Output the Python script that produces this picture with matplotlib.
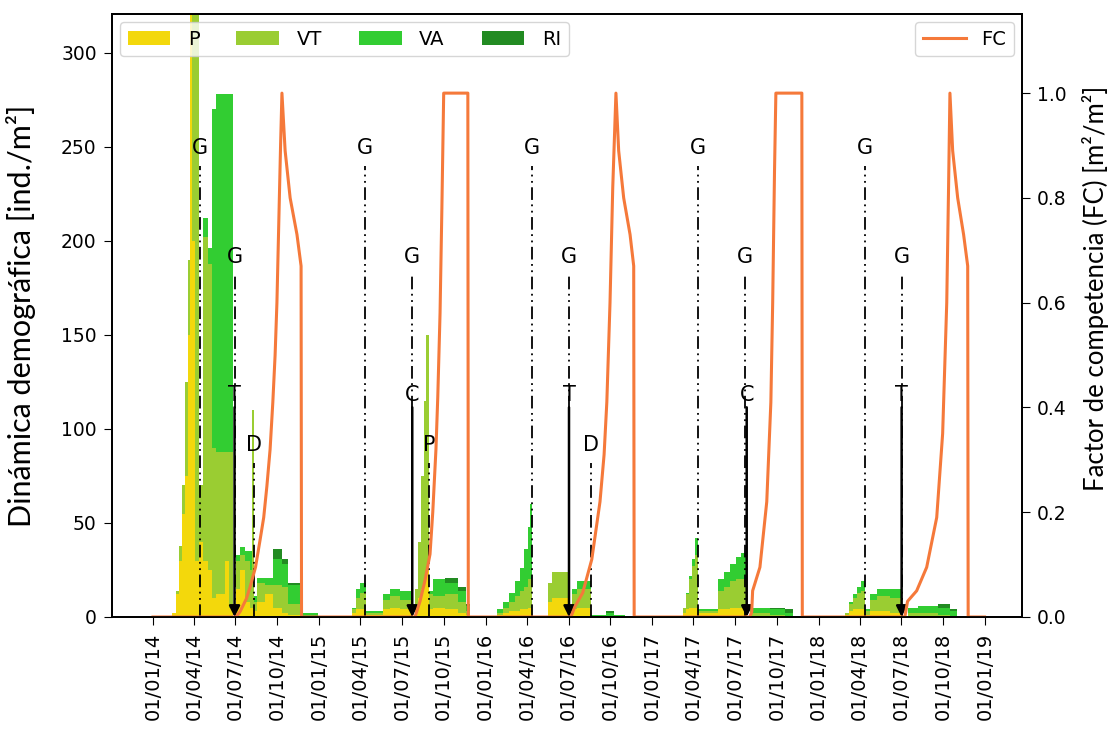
import matplotlib
matplotlib.use("Agg")
import matplotlib.pyplot as plt
import matplotlib.dates as mdates
import pandas as pd

# population breakpoints (value holds until next date)
pop_dates = [
    "2014-01-01", "2014-02-12", "2014-02-20", "2014-02-27", "2014-03-06", "2014-03-12",
    "2014-03-19", "2014-03-23", "2014-03-28", "2014-04-03", "2014-04-12", "2014-04-21",
    "2014-05-02", "2014-05-10", "2014-05-19", "2014-06-08", "2014-06-17", "2014-06-26",
    "2014-07-02", "2014-07-11", "2014-07-22", "2014-08-02", "2014-08-06", "2014-08-11",
    "2014-08-17", "2014-09-04", "2014-09-21", "2014-10-11", "2014-10-24", "2014-11-22",
    "2014-12-29",
    "2015-03-14", "2015-03-22", "2015-03-31", "2015-04-13", "2015-05-21", "2015-06-05",
    "2015-06-27", "2015-07-25", "2015-07-30", "2015-08-05", "2015-08-12", "2015-08-19",
    "2015-08-23", "2015-08-30", "2015-09-08", "2015-10-04", "2015-11-01", "2015-11-19",
    "2015-11-28",
    "2016-01-26", "2016-02-08", "2016-02-21", "2016-03-05", "2016-03-16", "2016-03-25",
    "2016-04-03", "2016-04-07", "2016-04-12", "2016-05-17", "2016-05-25", "2016-06-29",
    "2016-07-08", "2016-07-19", "2016-08-19", "2016-09-21", "2016-10-08", "2016-11-02",
    "2017-03-09", "2017-03-15", "2017-03-22", "2017-03-29", "2017-04-04", "2017-04-11",
    "2017-05-25", "2017-06-07", "2017-06-20", "2017-07-03", "2017-07-14", "2017-07-27",
    "2017-08-03", "2017-09-16", "2017-10-19", "2017-11-05",
    "2018-02-27", "2018-03-08", "2018-03-17", "2018-03-26", "2018-04-03", "2018-04-12",
    "2018-04-23", "2018-05-08", "2018-06-06", "2018-06-30", "2018-07-15", "2018-08-06",
    "2018-09-19", "2018-10-16", "2018-10-31", "2018-12-31",
]
P = [
    0, 2, 12, 30, 55, 75, 150, 340, 200, 30, 40, 30,
    25, 10, 12, 30, 5, 0, 15, 25, 8, 5, 5, 3,
    8, 12, 5, 2, 1, 0, 0,
    2, 4, 4, 1, 4, 5, 4, 0, 5, 10, 15, 20,
    25, 4, 5, 4, 2, 1, 0,
    1, 2, 3, 3, 4, 4, 5, 5, 0, 8, 10, 0,
    4, 5, 0, 0, 0, 0,
    2, 4, 5, 5, 5, 2, 4, 4, 5, 5, 5, 0,
    0, 0, 0, 0,
    1, 3, 4, 4, 4, 1, 3, 3, 2, 0, 0, 0,
    0, 0, 0, 0,
]
VT = [
    0, 0, 2, 8, 15, 50, 40, 10, 150, 310, 30, 172,
    163, 80, 76, 58, 83, 0, 15, 8, 22, 20, 105, 5,
    10, 5, 12, 14, 6, 0, 0,
    2, 6, 9, 1, 5, 6, 5, 0, 10, 30, 60, 95,
    125, 8, 6, 8, 6, 2, 0,
    1, 3, 5, 8, 10, 12, 15, 15, 0, 10, 14, 0,
    8, 10, 0, 0, 0, 0,
    3, 8, 15, 22, 28, 1, 10, 12, 14, 15, 15, 0,
    2, 1, 0, 0,
    1, 4, 6, 9, 10, 2, 6, 8, 8, 0, 2, 2,
    1, 0, 0, 0,
]
VA = [
    0, 0, 0, 0, 0, 0, 0, 0, 0, 0, 0, 10,
    8, 180, 190, 190, 190, 0, 3, 4, 5, 10, 0, 3,
    3, 4, 14, 12, 10, 2, 0,
    1, 5, 5, 1, 3, 4, 5, 0, 0, 0, 0, 0,
    0, 2, 9, 6, 6, 3, 0,
    2, 3, 5, 8, 12, 20, 28, 40, 0, 0, 0, 0,
    3, 4, 1, 2, 1, 0,
    0, 1, 2, 4, 9, 1, 6, 8, 9, 12, 14, 0,
    3, 3, 2, 0,
    0, 1, 2, 3, 5, 1, 3, 4, 5, 0, 3, 4,
    4, 3, 0, 0,
]
RI = [
    0, 0, 0, 0, 0, 0, 0, 0, 0, 0, 0, 0,
    0, 0, 0, 0, 0, 0, 0, 0, 0, 0, 0, 0,
    0, 0, 5, 3, 1, 0, 0,
    0, 0, 0, 0, 0, 0, 0, 0, 0, 0, 0, 0,
    0, 0, 0, 3, 2, 1, 0,
    0, 0, 0, 0, 0, 0, 0, 0, 0, 0, 0, 0,
    0, 0, 0, 1, 0, 0,
    0, 0, 0, 0, 0, 0, 0, 0, 0, 0, 0, 0,
    0, 1, 2, 0,
    0, 0, 0, 0, 0, 0, 0, 0, 0, 0, 0, 0,
    2, 1, 0, 0,
]

# competition factor
fc_dates = [
    "2014-01-01", "2014-07-02", "2014-07-11", "2014-07-25", "2014-08-02", "2014-08-14",
    "2014-08-24", "2014-09-01", "2014-09-08", "2014-09-15", "2014-09-21", "2014-09-26",
    "2014-09-30", "2014-10-04", "2014-10-08", "2014-10-11", "2014-10-18", "2014-10-29",
    "2014-11-13", "2014-11-22", "2014-11-23",
    "2015-07-30", "2015-08-10", "2015-08-21", "2015-09-01", "2015-09-07", "2015-09-14",
    "2015-09-18", "2015-09-23", "2015-09-27", "2015-10-01", "2015-11-23", "2015-11-24",
    "2016-07-06", "2016-07-15", "2016-08-01", "2016-08-21", "2016-09-08", "2016-09-17",
    "2016-09-23", "2016-09-30", "2016-10-06", "2016-10-13", "2016-10-19", "2016-10-30",
    "2016-11-13", "2016-11-21", "2016-11-22",
    "2017-08-03", "2017-08-07", "2017-08-09", "2017-08-25", "2017-09-09", "2017-09-18",
    "2017-09-22", "2017-09-26", "2017-09-29", "2017-11-25", "2017-11-26",
    "2018-07-09", "2018-07-15", "2018-08-04", "2018-08-26", "2018-09-17", "2018-09-30",
    "2018-10-09", "2018-10-13", "2018-10-16", "2018-10-22", "2018-11-02", "2018-11-15",
    "2018-11-24", "2018-11-25", "2018-12-31",
]
FC = [
    0, 0, 0.01, 0.035, 0.057, 0.095, 0.147, 0.19, 0.25, 0.32, 0.41, 0.5,
    0.6, 0.75, 0.9, 1.0, 0.89, 0.80, 0.73, 0.67, 0,
    0, 0.03, 0.07, 0.12, 0.2, 0.32, 0.42, 0.58, 0.78, 1.0, 1.0, 0,
    0, 0.02, 0.046, 0.11, 0.22, 0.31, 0.41, 0.6, 0.82, 1.0, 0.89, 0.80,
    0.73, 0.67, 0,
    0, 0.01, 0.05, 0.095, 0.22, 0.41, 0.6, 0.85, 1.0, 1.0, 0,
    0, 0.03, 0.05, 0.095, 0.19, 0.35, 0.6, 0.82, 1.0, 0.89, 0.80, 0.73,
    0.67, 0, 0,
]

# management events
g1_dates = ["2014-04-14", "2015-04-12", "2016-04-12", "2017-04-11", "2018-04-12"]
g2_dates = ["2014-06-29", "2015-07-23", "2016-07-02", "2017-07-23", "2018-07-02"]
arrow_dates = ["2014-06-29", "2015-07-24", "2016-07-02", "2017-07-27", "2018-07-02"]
arrow_labels = ["T", "C", "T", "C", "T"]
mark_dates = ["2014-08-11", "2015-08-30", "2016-08-19"]
mark_labels = ["D", "P", "D"]

colors = ["#f3d80c", "#9acd32", "#32cd32", "#228b22"]
fc_color = "#f5793a"
dashdot = (0, (7, 2.5, 1, 2.5, 1, 2.5))

fig = plt.figure(figsize=(11.12, 7.30), dpi=100)
ax = fig.add_axes([0.1007, 0.1548, 0.8183, 0.8260])
ax2 = ax.twinx()

x = pd.to_datetime(pop_dates)
ax.stackplot(x, P, VT, VA, RI, colors=colors, labels=["P", "VT", "VA", "RI"],
             step="post", linewidth=0)

for d in pd.to_datetime(g1_dates):
    ax.plot([d, d], [0, 240], color="k", lw=1.3, linestyle=dashdot, zorder=3)
    ax.text(d, 244, "G", ha="center", va="bottom", fontsize=15, zorder=4)
for d in pd.to_datetime(g2_dates):
    ax.plot([d, d], [0, 182], color="k", lw=1.3, linestyle=dashdot, zorder=3)
    ax.text(d, 186, "G", ha="center", va="bottom", fontsize=15, zorder=4)
for d, lab in zip(pd.to_datetime(arrow_dates), arrow_labels):
    ax.annotate(lab, xy=(d, 0), xytext=(d, 113), ha="center", va="bottom", fontsize=15,
                arrowprops=dict(arrowstyle="-|>", color="k", lw=1.8, mutation_scale=16,
                                shrinkA=0, shrinkB=0), zorder=4)
for d, lab in zip(pd.to_datetime(mark_dates), mark_labels):
    ax.plot([d, d], [0, 82], color="k", lw=1.3, linestyle=dashdot, zorder=3)
    ax.text(d, 86, lab, ha="center", va="bottom", fontsize=15, zorder=4)

ax2.plot(pd.to_datetime(fc_dates), FC, color=fc_color, lw=2.2, label="FC")

ax.set_xlim(pd.Timestamp("2013-10-03"), pd.Timestamp("2019-03-23"))
ax.set_ylim(0, 320.7)
ax2.set_ylim(0, 1.151)
ax.set_yticks([0, 50, 100, 150, 200, 250, 300])
ax2.set_yticks([0.0, 0.2, 0.4, 0.6, 0.8, 1.0])
ax.xaxis.set_major_locator(mdates.MonthLocator(bymonth=[1, 4, 7, 10]))
ax.xaxis.set_major_formatter(mdates.DateFormatter("%d/%m/%y"))
ax.tick_params(axis="x", labelrotation=90, labelsize=14, length=6, pad=5)
ax.tick_params(axis="y", labelsize=13.5, length=6, pad=5)
ax2.tick_params(axis="y", labelsize=13.5, length=6, pad=5)
for a in (ax, ax2):
    for s in a.spines.values():
        s.set_linewidth(1.3)

ax.set_ylabel("Dinámica demográfica [ind./m²]", fontsize=22, family="Lato")
ax.yaxis.set_label_coords(-0.084, 0.5)
ax2.set_ylabel("Factor de competencia (FC) [m²/m²]", fontsize=18.5, family="Lato")
ax2.yaxis.set_label_coords(1.066, 0.545)

ax.legend(loc="upper left", ncol=4, fontsize=14, handlelength=2.2, handletextpad=0.9,
          columnspacing=1.9, borderaxespad=0.4)
ax2.legend(loc="upper right", fontsize=14, handlelength=2.2, borderaxespad=0.4)

fig.savefig("out.png", dpi=100)
